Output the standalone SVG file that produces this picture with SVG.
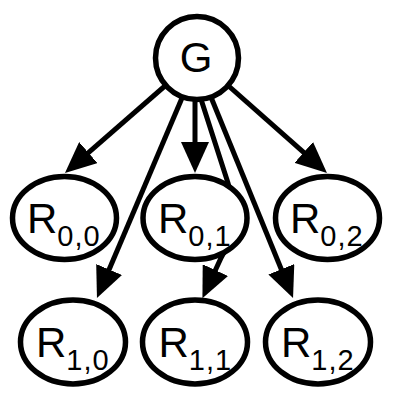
<svg xmlns="http://www.w3.org/2000/svg" width="393" height="397" viewBox="0 0 393 397">
<defs>
<marker id="ah" markerWidth="31" markerHeight="28" refX="1" refY="14" orient="auto" markerUnits="userSpaceOnUse">
<path d="M0,0 L31,14 L0,28 z" fill="#000"/>
</marker>
<style>
.edge{fill:none;stroke:#000;stroke-width:5;marker-end:url(#ah)}
.node{fill:#fff;stroke:#000;stroke-width:5.5}
.lbl{font-family:"Liberation Sans",Arial,sans-serif;font-size:42px;fill:#000}
.sub{font-size:29px;letter-spacing:1px}
</style>
</defs>
<rect width="393" height="397" fill="#fff"/>
<g id="connectors">
<path class="edge" d="M197,58 L87.6,153.3"/>
<path class="edge" d="M195,58 L195,143"/>
<path class="edge" d="M197,58 L304.5,153.1"/>
<path class="edge" d="M199,58 L108.7,270.4"/>
<path class="edge" d="M199,93 L228,183 C238,215 232,240 221,258 L215,271"/>
<path class="edge" d="M195,58 L281.7,270.2"/>
</g>
<g id="G">
<circle class="node" cx="197" cy="58" r="41.5"/>
<text class="lbl" x="196" y="72" text-anchor="middle">G</text>
</g>
<g id="R00">
<ellipse class="node" cx="64.5" cy="218" rx="52" ry="41.5"/>
<text class="lbl" x="27" y="233">R<tspan class="sub" dy="12.5">0,0</tspan></text>
</g>
<g id="R01">
<ellipse class="node" cx="195" cy="218" rx="52" ry="41.5"/>
<text class="lbl" x="158" y="233">R<tspan class="sub" dy="12.5">0,1</tspan></text>
</g>
<g id="R02">
<ellipse class="node" cx="327.5" cy="218" rx="52" ry="41.5"/>
<text class="lbl" x="290" y="233">R<tspan class="sub" dy="12.5">0,2</tspan></text>
</g>
<g id="R10">
<ellipse class="node" cx="73" cy="342" rx="52.5" ry="42"/>
<text class="lbl" x="36" y="357">R<tspan class="sub" dy="12.5">1,0</tspan></text>
</g>
<g id="R11">
<ellipse class="node" cx="195" cy="342" rx="52.5" ry="42"/>
<text class="lbl" x="158.5" y="357">R<tspan class="sub" dy="12.5">1,1</tspan></text>
</g>
<g id="R12">
<ellipse class="node" cx="318" cy="342" rx="52.5" ry="42"/>
<text class="lbl" x="281" y="357">R<tspan class="sub" dy="12.5">1,2</tspan></text>
</g>
</svg>
